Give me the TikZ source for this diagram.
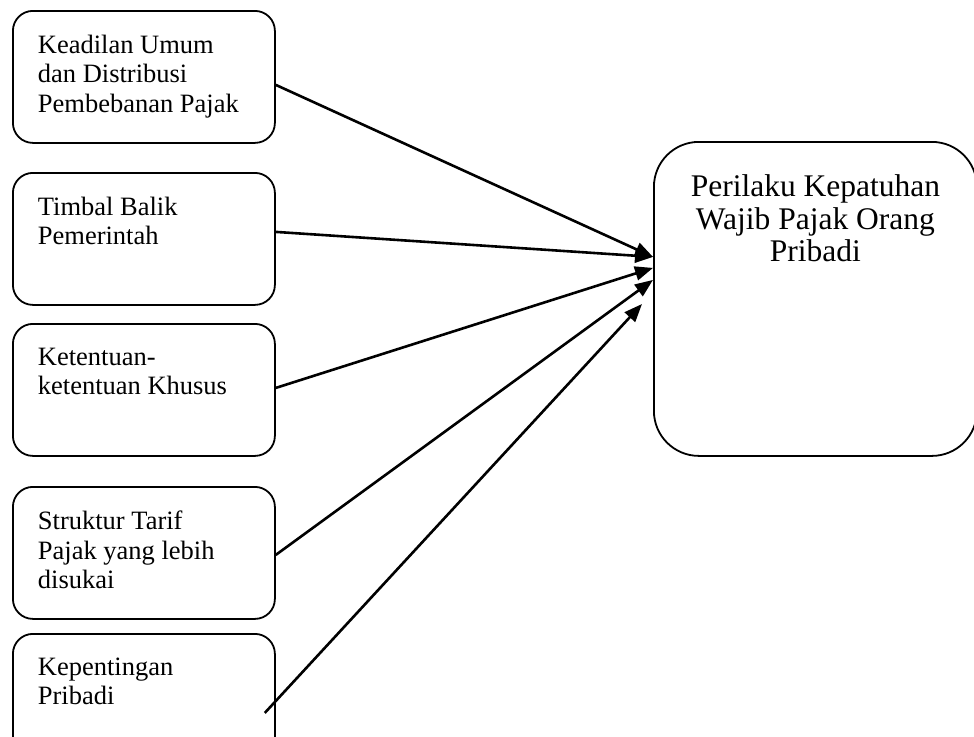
\documentclass[tikz,border=0pt]{standalone}
\usepackage{fontspec}
\setmainfont{Liberation Serif}
\usepackage{tikz}
\usetikzlibrary{arrows.meta, positioning}
\tikzset{>={Triangle[length=18pt,width=14pt]}}
\tikzset{
	faktor/.style={draw, line width=1.8pt, rounded corners=20pt, anchor=north west,
		minimum width=262pt, minimum height=132pt, inner sep=0pt},
	hasil/.style={draw, line width=1.8pt, rounded corners=45pt, anchor=north west,
		minimum width=323pt, minimum height=314pt, inner sep=0pt},
	panah/.style={->, line width=2.6pt}
}
\newcommand{\faktorteks}[1]{\parbox[c][132pt][t]{212pt}{\raggedright\fontsize{26.5}{29.5}\selectfont\vspace*{24pt}#1}}
\newcommand{\hasilteks}[1]{\parbox[c][314pt][t]{300pt}{\centering\fontsize{31.5}{32.5}\selectfont\vspace*{33pt}#1}}

\begin{document}
\begin{tikzpicture}[x=1pt, y=-1pt]

			\clip (0,0) rectangle (974,736);

			\node[faktor] (k1) at (12,10) {\faktorteks{Keadilan Umum\\dan Distribusi\\Pembebanan Pajak}};
			\node[faktor] (k2) at (12,172) {\faktorteks{Timbal Balik\\Pemerintah}};
			\node[faktor] (k3) at (12,323) {\faktorteks{Ketentuan-\\ketentuan Khusus}};
			\node[faktor] (k4) at (12,486) {\faktorteks{Struktur Tarif\\Pajak yang lebih\\disukai}};
			\node[faktor] (k5) at (12,633) {\faktorteks{Kepentingan\\Pribadi}};

			\node[hasil] (perilaku) at (653,141) {\hasilteks{Perilaku Kepatuhan\\Wajib Pajak Orang\\Pribadi}};
			\coordinate (ujung5) at (642,304);

			\draw [panah] ([shift={(0,8)}]k1.east)--([shift={(0,-42)}]perilaku.west);
			\draw [panah] ([shift={(0,-7)}]k2.east)--([shift={(0,-42)}]perilaku.west);
			\draw [panah] ([shift={(0,-2)}]k3.east)--([shift={(0,-31)}]perilaku.west);
			\draw [panah] ([shift={(0,2)}]k4.east)--([shift={(0,-19)}]perilaku.west);
			\draw [panah] ([shift={(-11,13)}]k5.east)--(ujung5);

\end{tikzpicture}
\end{document}
